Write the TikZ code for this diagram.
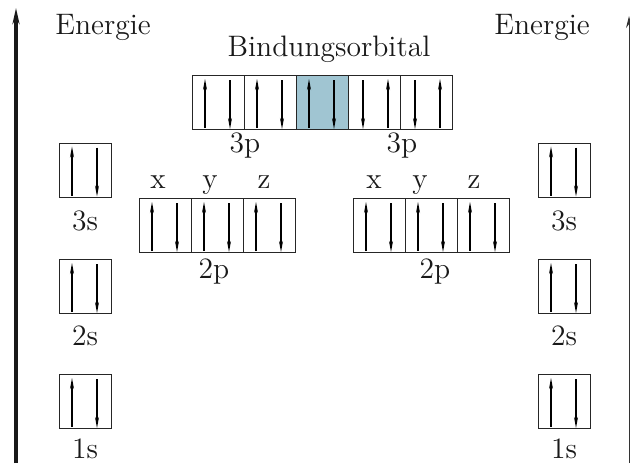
\documentclass[tikz,border=0pt]{standalone}
\usetikzlibrary{arrows.meta}

\definecolor{bondblue}{RGB}{160,197,210}

\tikzset{
  orb/.style={draw=black!85, line width=0.5pt, minimum width=26pt, minimum height=27pt, inner sep=0pt},
  spin/.style={line width=0.6pt, -{Stealth[length=5.5pt,width=2pt]}},
  lbl/.style={font=\fontsize{14.8}{17}\selectfont, text=black!90, inner sep=0pt, anchor=base}
}

% pair of spins: up left, down right
\newcommand{\updown}[1]{%
  \draw[spin] ([shift={(-6.5pt,1pt)}]#1.south) -- ([shift={(-6.5pt,-2pt)}]#1.north);
  \draw[spin] ([shift={(6pt,-2.5pt)}]#1.north) -- ([shift={(6pt,0.5pt)}]#1.south);}
% pair of spins: down left, up right
\newcommand{\downup}[1]{%
  \draw[spin] ([shift={(-5.5pt,-2.5pt)}]#1.north) -- ([shift={(-5.5pt,0.5pt)}]#1.south);
  \draw[spin] ([shift={(7pt,1pt)}]#1.south) -- ([shift={(7pt,-2pt)}]#1.north);}

\begin{document}
\begin{tikzpicture}[x=0.5pt, y=-0.5pt]
	\useasboundingbox (0,0) rectangle (630,463);
	
	% energy axes
	\coordinate (lbot) at (16,463);
	\coordinate (ltop) at (16,8);
	\draw[line width=1.6pt, black!90, -{Stealth[length=8pt,width=3.5pt]}] (lbot) -- (ltop);
	\coordinate (rbot) at (629,463);
	\coordinate (rtop) at (629,16);
	\draw[line width=0.5pt, black!80, -{Stealth[length=6pt,width=3pt]}] (rbot) -- (rtop);
	
	\node[lbl, anchor=base west] (energyL) at (55,34) {Energie};
	\node[lbl, anchor=base west] (energyR) at (494,34) {Energie};
	
	% bonding orbital row (3p)
	\foreach \n/\x in {1/218,2/270,4/374,5/426} {
		\node[orb] (bond\n) at (\x,102.5) {};
	}
	\node[orb, fill=bondblue] (bond3) at (322,102.5) {};
	
	\foreach \n in {1,2,3} {\updown{bond\n}}
	\foreach \n in {4,5} {\downup{bond\n}}
	
	\node[lbl] (bondlbl) at (329,56) {Bindungsorbital};
	\node[lbl] (p3L) at (245,152) {3p};
	\node[lbl] (p3R) at (402,152) {3p};
	
	% 2p boxes
	\foreach \n/\x in {1/165,2/217,3/269} {
		\node[orb] (pl\n) at (\x,225.5) {};
		\updown{pl\n}
	}
	\foreach \n/\x in {1/379,2/431,3/483} {
		\node[orb] (pr\n) at (\x,225.5) {};
		\updown{pr\n}
	}
	
	\node[lbl] (xL) at (158,188) {x};
	\node[lbl] (yL) at (210,188) {y};
	\node[lbl] (zL) at (264,188) {z};
	\node[lbl] (xR) at (374,188) {x};
	\node[lbl] (yR) at (420,188) {y};
	\node[lbl] (zR) at (474,188) {z};
	
	\node[lbl] (p2L) at (214,278) {2p};
	\node[lbl] (p2R) at (435,278) {2p};
	
	% s boxes on both sides
	\foreach \n/\y/\b in {3/170/230,2/286.5/345,1/401.5/458} {
		\node[orb] (sl\n) at (85,\y) {};
		\updown{sl\n}
		\node[lbl] (slbl\n) at (85,\b) {\n s};
		\node[orb] (sr\n) at (564,\y) {};
		\updown{sr\n}
		\node[lbl] (srlbl\n) at (564,\b) {\n s};
	}
\end{tikzpicture}
\end{document}
